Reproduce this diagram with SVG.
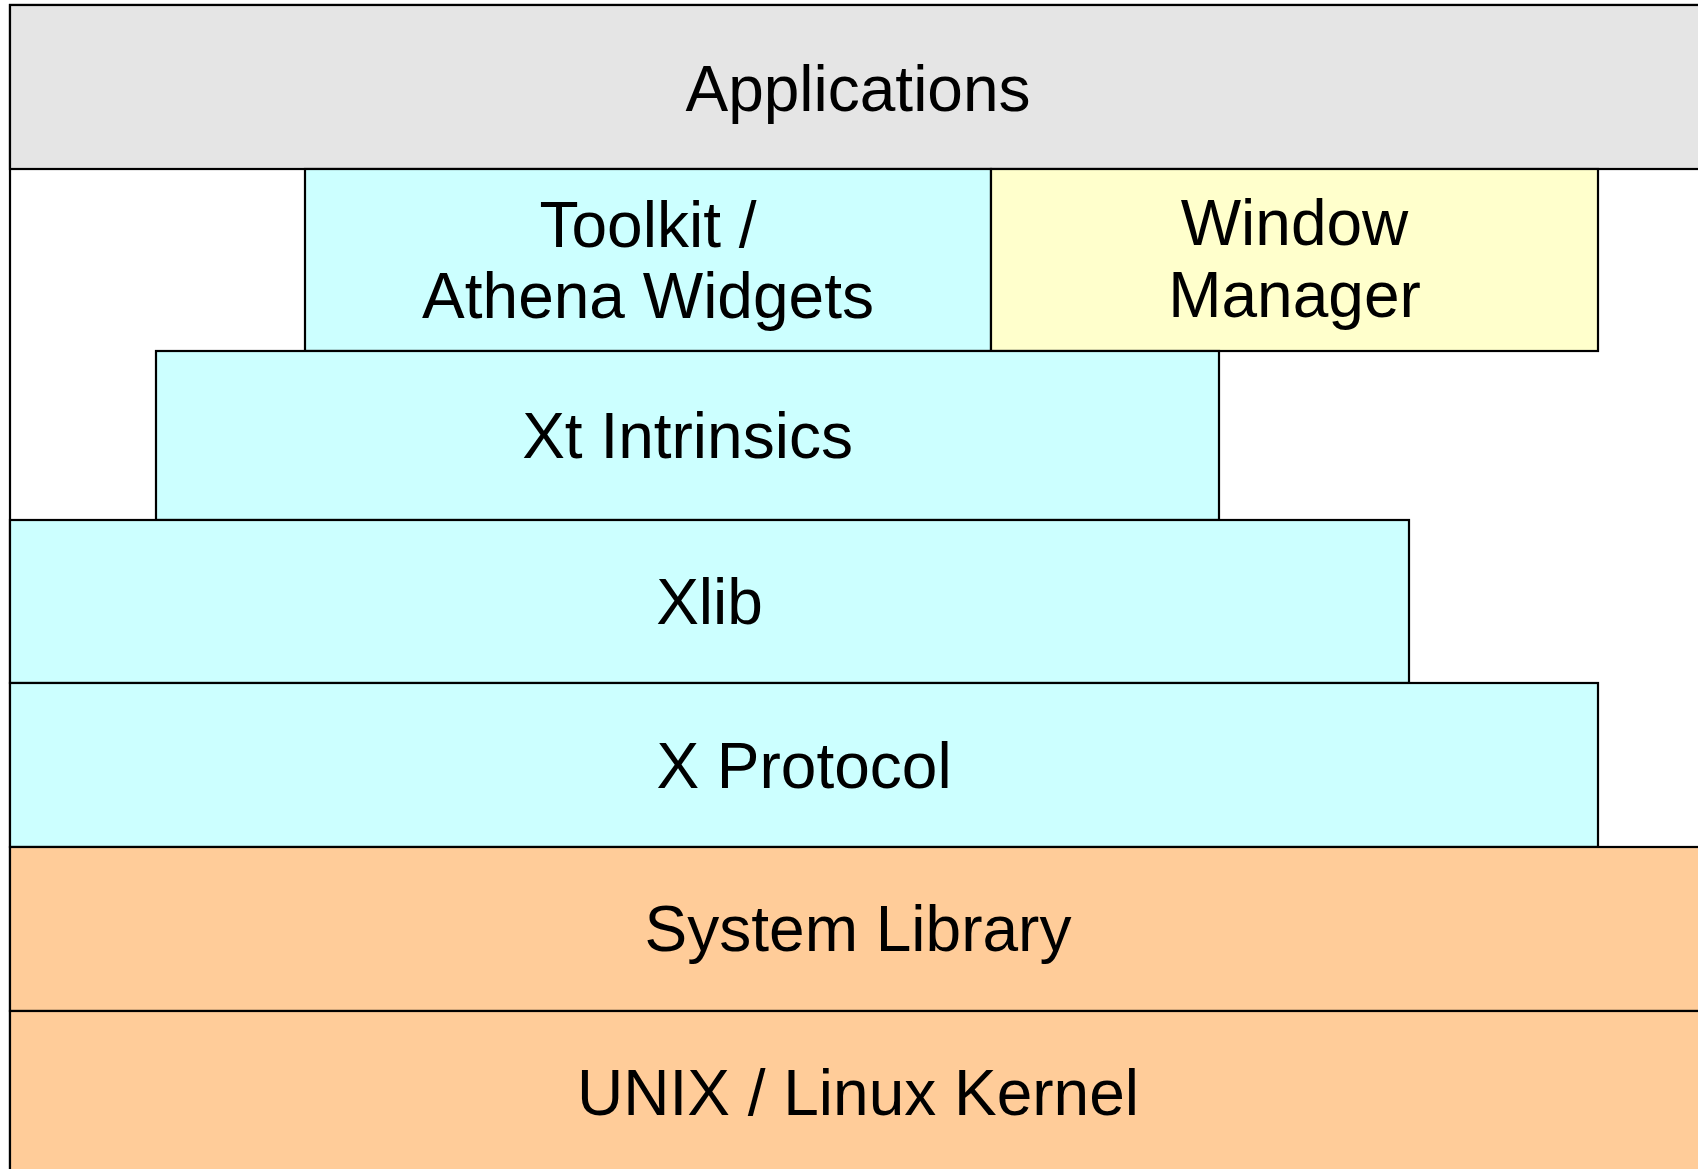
<svg xmlns="http://www.w3.org/2000/svg" width="1698" height="1169" viewBox="0 0 1698 1169">
<style>
rect{stroke:#000;stroke-width:2.2}
.g{fill:#e5e5e5}.c{fill:#ccffff}.y{fill:#ffffcc}.o{fill:#ffcc99}
text{font-family:"Liberation Sans",Arial,sans-serif;font-size:64px;fill:#000;text-anchor:middle}
</style>
<rect x="0" y="0" width="1698" height="1169" style="fill:#fff;stroke:none"/>
<g id="frame"><rect x="10" y="5" width="1698" height="1175" fill="#fff"/></g>
<g id="applications"><rect class="g" x="10" y="5" width="1698" height="164"/><text x="858" y="111">Applications</text></g>
<g id="toolkit"><rect class="c" x="305" y="169" width="686" height="182"/><text x="648" y="247">Toolkit /</text><text x="648" y="318">Athena Widgets</text></g>
<g id="window-manager"><rect class="y" x="991" y="169" width="607" height="182"/><text x="1294.5" y="245">Window</text><text x="1294.5" y="317">Manager</text></g>
<g id="xt"><rect class="c" x="156" y="351" width="1063" height="169"/><text x="687.5" y="458">Xt Intrinsics</text></g>
<g id="xlib"><rect class="c" x="10" y="520" width="1399" height="163"/><text x="709.5" y="624">Xlib</text></g>
<g id="xprotocol"><rect class="c" x="10" y="683" width="1588" height="164"/><text x="804" y="788">X Protocol</text></g>
<g id="system-library"><rect class="o" x="10" y="847" width="1698" height="164"/><text x="858" y="951">System Library</text></g>
<g id="kernel"><rect class="o" x="10" y="1011" width="1698" height="170"/><text x="858" y="1115">UNIX / Linux Kernel</text></g>
<g id="connectors"/>
</svg>
